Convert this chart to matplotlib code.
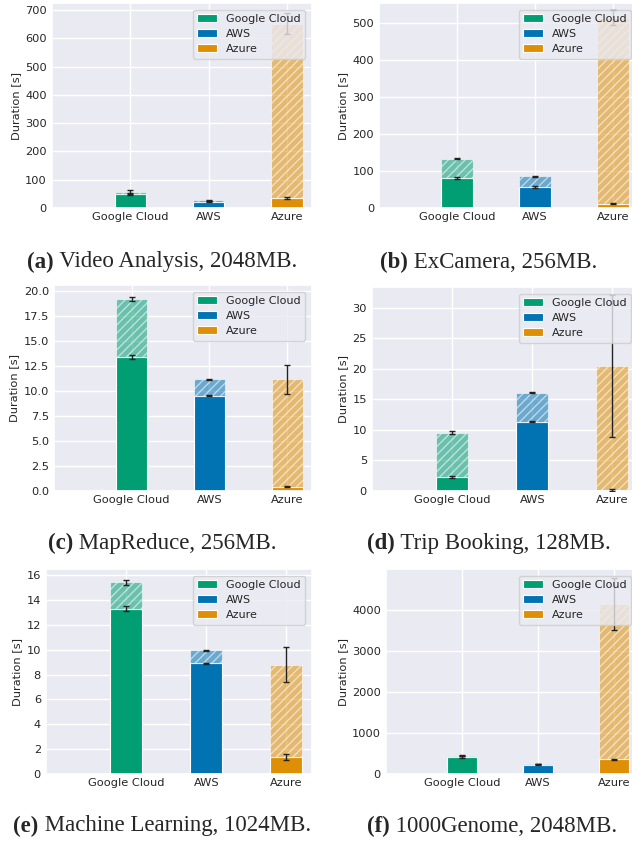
import numpy as np
import matplotlib
matplotlib.use("Agg")
import matplotlib.pyplot as plt
import seaborn as sns

sns.set_theme(style="darkgrid")
plt.rcParams['font.family'] = ['DejaVu Sans']

providers = ["Google Cloud", "AWS", "Azure"]
colors = ["#029e73", "#0173b2", "#de8f05"]

# solid part (lower) and total (top of hatched part), with errors
va_solid = [48, 22, 36];        va_solid_err = [3, 2, 3]
va_total = [58, 28, 652];       va_total_err = [4, 2, 37]
ex_solid = [81.5, 57, 11];      ex_solid_err = [2, 1.5, 1.5]
ex_total = [134, 86, 515];      ex_total_err = [2, 1.5, 20]
mr_solid = [13.4, 9.55, 0.45];  mr_solid_err = [0.2, 0.05, 0.05]
mr_total = [19.25, 11.17, 11.2]; mr_total_err = [0.2, 0.05, 1.45]
tb_solid = [2.3, 11.35, 0.2];   tb_solid_err = [0.2, 0.05, 0.2]
tb_total = [9.55, 16.1, 20.45]; tb_total_err = [0.25, 0.05, 11.65]
ml_solid = [13.3, 8.9, 1.35];   ml_solid_err = [0.2, 0.05, 0.25]
ml_total = [15.45, 9.97, 8.8];  ml_total_err = [0.2, 0.05, 1.43]
gn_solid = [420, 225, 360];     gn_solid_err = [20, 10, 15]
gn_total = [450, 245, 4139];    gn_total_err = [20, 10, 630]

captions = [("(a)", " Video Analysis, 2048MB."),
            ("(b)", " ExCamera, 256MB."),
            ("(c)", " MapReduce, 256MB."),
            ("(d)", " Trip Booking, 128MB."),
            ("(e)", " Machine Learning, 1024MB."),
            ("(f)", " 1000Genome, 2048MB.")]

panels = [
    (va_solid, va_solid_err, va_total, va_total_err, 725, np.arange(0, 701, 100), "{:.0f}"),
    (ex_solid, ex_solid_err, ex_total, ex_total_err, 555, np.arange(0, 501, 100), "{:.0f}"),
    (mr_solid, mr_solid_err, mr_total, mr_total_err, 20.6, np.arange(0, 20.1, 2.5), "{:.1f}"),
    (tb_solid, tb_solid_err, tb_total, tb_total_err, 33.4, np.arange(0, 31, 5), "{:.0f}"),
    (ml_solid, ml_solid_err, ml_total, ml_total_err, 16.5, np.arange(0, 17, 2), "{:.0f}"),
    (gn_solid, gn_solid_err, gn_total, gn_total_err, 5000, np.arange(0, 4001, 1000), "{:.0f}"),
]

W, H = 632, 843
fig = plt.figure(figsize=(W / 100, H / 100), dpi=100)

# axes boxes in pixels: left, right, top, bottom
boxes = [(52, 312, 3, 208), (379, 638, 3, 208),
         (54, 312, 285, 491), (372, 638, 287, 491),
         (46, 312, 569, 774), (386, 638, 569, 774)]
cap_centers = [(162, 262), (489, 262), (162, 543), (489, 543), (162, 826), (492, 826)]

fs = 8.2
x = np.arange(len(providers))
for i, (p, box) in enumerate(zip(panels, boxes)):
    solid, serr, total, terr, ymax, yticks, fmt = p
    l, r, t, b = box
    ax = fig.add_axes([l / W, (H - b) / H, (r - l) / W, (b - t) / H])
    solid = np.array(solid, float)
    total = np.array(total, float)
    for j in range(3):
        ax.bar(x[j], solid[j], width=0.4, color=colors[j], edgecolor="white",
               linewidth=0.8, label=providers[j])
        ax.bar(x[j], total[j] - solid[j], bottom=solid[j], width=0.4, color=colors[j],
               edgecolor="white", linewidth=0.8, alpha=0.55, hatch="////")
    ax.errorbar(x, solid, yerr=serr, fmt="none", ecolor="#222222", elinewidth=1.0,
                capsize=2.5, capthick=1.0, zorder=4)
    ax.errorbar(x, total, yerr=terr, fmt="none", ecolor="#222222", elinewidth=1.0,
                capsize=2.5, capthick=1.0, zorder=4)
    ax.set_xlim(-1.0, 2.32)
    ax.set_ylim(0, ymax)
    ax.set_xticks(x)
    ax.set_xticklabels(providers, fontsize=fs, color="#262626")
    ax.set_yticks(yticks)
    ax.set_yticklabels([fmt.format(v) for v in yticks], fontsize=fs, color="#262626")
    ax.set_ylabel("Duration [s]", fontsize=fs, labelpad=3, color="#262626")
    ax.tick_params(axis="x", length=0, pad=3.2)
    ax.tick_params(axis="y", length=0, pad=3.6)
    ax.legend(loc="upper right", fontsize=8.0, borderaxespad=0.6,
              handlelength=1.8, labelspacing=0.45)

fig.canvas.draw()
renderer = fig.canvas.get_renderer()
for (bold, rest), (cx, cy) in zip(captions, cap_centers):
    tb = fig.text(0, 0, bold, fontsize=16.5, fontweight="bold",
                  family=["Liberation Serif"], va="center", ha="left")
    tr = fig.text(0, 0, rest, fontsize=16.5, family=["Liberation Serif"],
                  va="center", ha="left")
    wb = tb.get_window_extent(renderer).width
    wr = tr.get_window_extent(renderer).width
    x0 = cx - (wb + wr) / 2
    yy = (H - cy) / H
    tb.set_position((x0 / W, yy))
    tr.set_position(((x0 + wb) / W, yy))

fig.savefig("out.png", dpi=100)
